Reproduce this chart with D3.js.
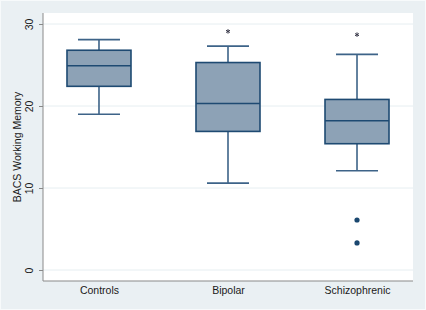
<!DOCTYPE html>
<html lang="en">
  <head>
    <meta charset="UTF-8" />
    <title>BACS Working Memory box plot</title>
    <style>
      html, body { margin: 0; padding: 0; background: #fff; }
      .chart text { font-family: "Liberation Sans", Arial, Helvetica, sans-serif; fill: #1a1a1a; }
    </style>
  </head>
  <body>
    <div class="chart"></div>
    <script src="https://d3js.org/d3.v7.min.js"></script>
    <script>
      // 資料
      const groups = ['Controls', 'Bipolar', 'Schizophrenic'];
      const whiskerLow = [19.0, 10.6, 12.1];
      const q1 = [22.4, 16.9, 15.4];
      const median = [24.9, 20.3, 18.2];
      const q3 = [26.8, 25.3, 20.8];
      const whiskerHigh = [28.1, 27.3, 26.3];
      // 星號 outliers and dot outliers
      const starOutliers = [{ g: 'Bipolar', v: 29.1 }, { g: 'Schizophrenic', v: 28.7 }];
      const dotOutliers = [{ g: 'Schizophrenic', v: 6.1 }, { g: 'Schizophrenic', v: 3.3 }];
      const yTicks = [0, 10, 20, 30];

      const svgWidth = 426, svgHeight = 310;
      const plotLeft = 43, plotRight = 413, plotTop = 13, plotBottom = 281;

      const svg = d3.select('.chart')
                    .append('svg')
                    .attr('width', svgWidth)
                    .attr('height', svgHeight);

      // 背景
      svg.append('rect')
        .attr('width', svgWidth).attr('height', svgHeight)
        .attr('fill', '#eaf0f3');
      svg.append('rect')
        .attr('x', 0.5).attr('y', 0.5)
        .attr('width', svgWidth - 1).attr('height', svgHeight - 1)
        .attr('fill', 'none').attr('stroke', '#f7fafb');
      svg.append('rect')
        .attr('x', plotLeft).attr('y', plotTop)
        .attr('width', plotRight - plotLeft).attr('height', plotBottom - plotTop)
        .attr('fill', '#fff');

      // scales
      const xScale = d3.scalePoint()
                .domain(groups)
                .range([plotLeft, plotRight])
                .padding(0.434);

      const yScale = d3.scaleLinear()
                .domain([0, 30])
                .range([270, 24]);

      // gridlines
      svg.append('g')
        .selectAll('line')
        .data(yTicks)
        .join('line')
        .attr('x1', plotLeft).attr('x2', plotRight)
        .attr('y1', d => yScale(d)).attr('y2', d => yScale(d))
        .attr('stroke', '#e6eef1')
        .attr('stroke-width', 1);

      // Y axis
      const yAxis = svg.append('g')
        .attr('transform', `translate(${plotLeft},0)`)
        .call(d3.axisLeft(yScale).tickValues(yTicks).tickSize(4).tickPadding(3));
      yAxis.select('.domain').remove();
      yAxis.selectAll('.tick line').attr('stroke', '#888');
      yAxis.selectAll('.tick text')
        .attr('transform', 'rotate(-90)')
        .attr('x', 0).attr('y', -10)
        .attr('dy', 0)
        .style('text-anchor', 'middle')
        .style('font-size', '10.5px');
      svg.append('line')
        .attr('x1', plotLeft).attr('x2', plotLeft)
        .attr('y1', plotTop).attr('y2', plotBottom)
        .attr('stroke', '#8a8a8a').attr('stroke-width', 1);

      // X axis
      const xAxis = svg.append('g')
        .attr('transform', `translate(0,${plotBottom})`)
        .call(d3.axisBottom(xScale).tickSize(0).tickPadding(6));
      xAxis.select('.domain').remove();
      xAxis.selectAll('.tick text').style('font-size', '10.5px');
      svg.append('line')
        .attr('x1', plotLeft).attr('x2', plotRight)
        .attr('y1', plotBottom).attr('y2', plotBottom)
        .attr('stroke', '#8a8a8a').attr('stroke-width', 1.2);

      // axis title
      svg.append('text')
        .attr('transform', `translate(21,${(plotTop + plotBottom) / 2}) rotate(-90)`)
        .style('text-anchor', 'middle')
        .style('font-size', '10.5px')
        .text('BACS Working Memory');

      // 盒鬚圖
      const boxW = 64, capW = 42;
      const boxes = svg.append('g')
        .selectAll('g')
        .data(groups)
        .join('g');

      // whiskers
      boxes.append('line')
        .attr('x1', d => xScale(d)).attr('x2', d => xScale(d))
        .attr('y1', (d, i) => yScale(whiskerHigh[i])).attr('y2', (d, i) => yScale(q3[i]))
        .attr('stroke', '#3d6388').attr('stroke-width', 1.6);
      boxes.append('line')
        .attr('x1', d => xScale(d)).attr('x2', d => xScale(d))
        .attr('y1', (d, i) => yScale(q1[i])).attr('y2', (d, i) => yScale(whiskerLow[i]))
        .attr('stroke', '#3d6388').attr('stroke-width', 1.6);
      boxes.append('line')
        .attr('x1', d => xScale(d) - capW / 2).attr('x2', d => xScale(d) + capW / 2)
        .attr('y1', (d, i) => yScale(whiskerHigh[i])).attr('y2', (d, i) => yScale(whiskerHigh[i]))
        .attr('stroke', '#3d6388').attr('stroke-width', 1.6);
      boxes.append('line')
        .attr('x1', d => xScale(d) - capW / 2).attr('x2', d => xScale(d) + capW / 2)
        .attr('y1', (d, i) => yScale(whiskerLow[i])).attr('y2', (d, i) => yScale(whiskerLow[i]))
        .attr('stroke', '#3d6388').attr('stroke-width', 1.6);

      // boxes
      boxes.append('rect')
        .attr('x', d => xScale(d) - boxW / 2)
        .attr('y', (d, i) => yScale(q3[i]))
        .attr('width', boxW)
        .attr('height', (d, i) => yScale(q1[i]) - yScale(q3[i]))
        .attr('fill', '#8da2b6')
        .attr('stroke', '#1e4a72')
        .attr('stroke-width', 1.6);

      boxes.append('line')
        .attr('x1', d => xScale(d) - boxW / 2).attr('x2', d => xScale(d) + boxW / 2)
        .attr('y1', (d, i) => yScale(median[i])).attr('y2', (d, i) => yScale(median[i]))
        .attr('stroke', '#1e4a72').attr('stroke-width', 1.6);

      // outliers
      svg.append('g')
        .selectAll('circle')
        .data(dotOutliers)
        .join('circle')
        .attr('cx', d => xScale(d.g))
        .attr('cy', d => yScale(d.v))
        .attr('r', 2.6)
        .attr('fill', '#1a476f');

      svg.append('g')
        .selectAll('path')
        .data(starOutliers)
        .join('path')
        .attr('transform', d => `translate(${xScale(d.g)},${yScale(d.v)})`)
        .attr('d', d3.symbol(d3.symbolAsterisk, 14))
        .attr('fill', 'none')
        .attr('stroke', '#3a3a4a')
        .attr('stroke-width', 1);
    </script>
  </body>
</html>
